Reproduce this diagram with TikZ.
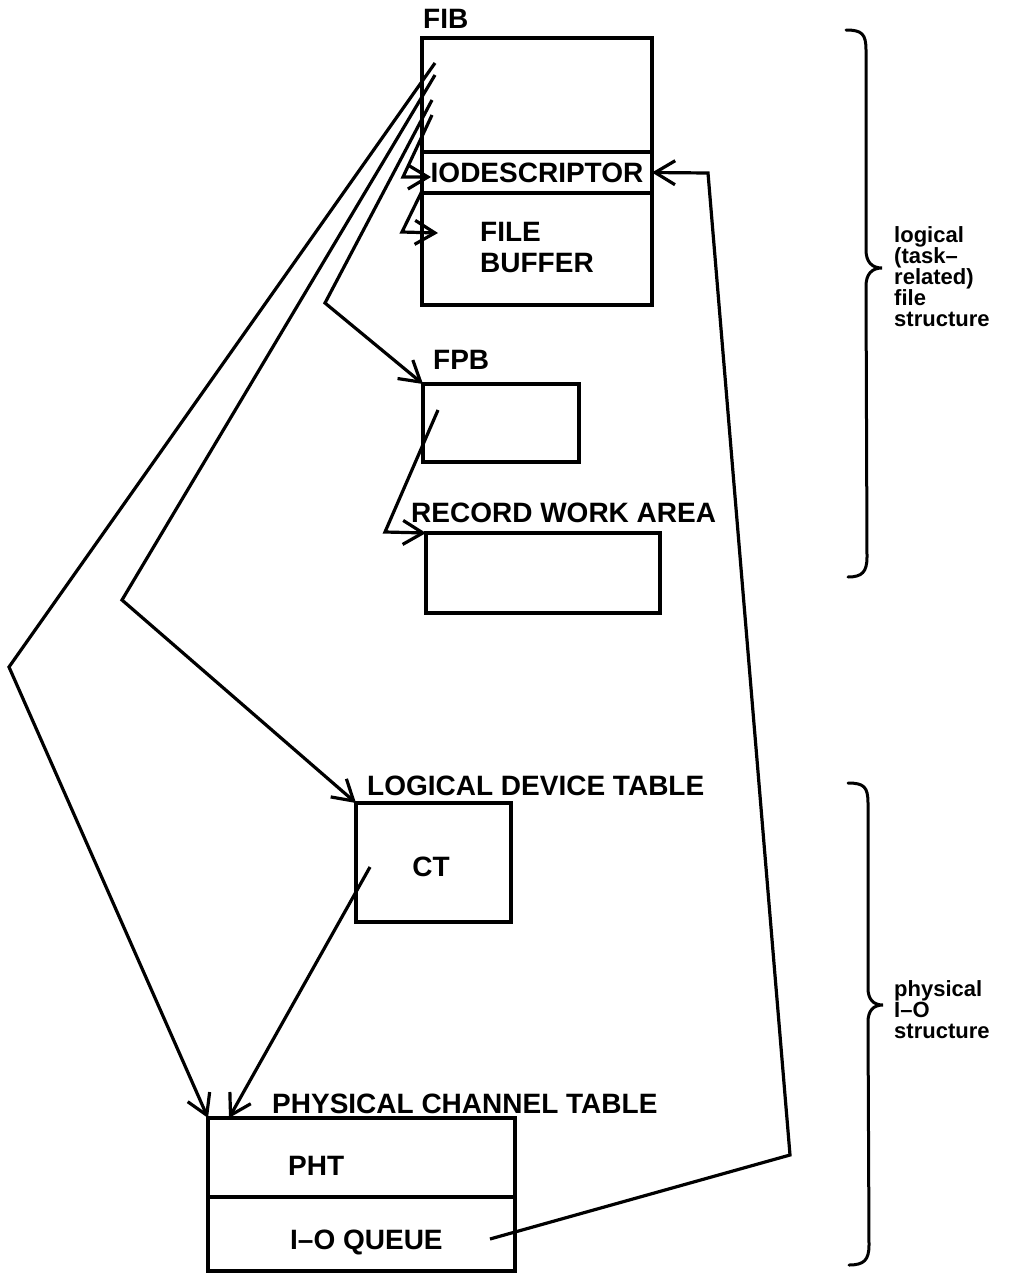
\documentclass[tikz,border=0pt]{standalone}
\usepackage{fontspec}
\setmainfont{Liberation Sans}
\usetikzlibrary{arrows.meta}
\begin{document}
\begin{tikzpicture}[x=1pt,y=-1pt,
  lw/.style={line width=3.2pt},
  box/.style={draw, lw, rectangle, outer sep=0pt, inner sep=0pt, anchor=north west},
  lbl/.style={font=\bfseries\fontsize{28}{31}\selectfont, inner sep=0pt},
  side/.style={font=\bfseries\fontsize{22}{21}\selectfont, inner sep=0pt, align=left, anchor=west},
  conn/.style={lw, line join=miter, -{Straight Barb[length=20pt,width=24pt]}},
  brc/.style={line width=3pt, line cap=round}
]
\fill[white] (0,0) rectangle (1019,1277);
\useasboundingbox (0,0) rectangle (1019,1277);

% FIB
\node[box, minimum width=230, minimum height=114] (fibtop) at (422,38) {};
\node[box, lbl, minimum width=230, minimum height=41] (iod) at (422,152) {IODESCRIPTOR};
\node[box, minimum width=230, minimum height=112] (fbuf) at (422,193) {};
\node[lbl, align=left, anchor=west] (fbtxt) at (480,247.5) {FILE\\BUFFER};
\node[lbl, anchor=base west] (fiblbl) at (423,28) {FIB};

% FPB
\node[box, minimum width=156, minimum height=78] (fpb) at (423,384) {};
\node[lbl, anchor=base west] (fpblbl) at (433,369) {FPB};

% Record work area
\node[box, minimum width=234, minimum height=80] (rwa) at (426,533) {};
\node[lbl, anchor=base west] (rwalbl) at (411,522) {RECORD WORK AREA};

% Logical device table
\node[box, minimum width=155, minimum height=119] (ldt) at (356,803) {};
\node[lbl] (cttxt) at (431,867) {CT};
\node[lbl, anchor=base west] (ldtlbl) at (367,795) {LOGICAL DEVICE TABLE};

% Physical channel table
\node[box, minimum width=307, minimum height=79] (pht) at (208,1118) {};
\node[box, minimum width=307, minimum height=74] (ioq) at (208,1197) {};
\node[lbl, anchor=base west] (phttxt) at (288,1175) {PHT};
\node[lbl, anchor=base west] (ioqtxt) at (290,1249) {I--O QUEUE};
\node[lbl, anchor=base west] (pctlbl) at (272,1113) {PHYSICAL CHANNEL TABLE};

% connectors
\coordinate (a1) at (435,63);  \coordinate (b1) at (9,667);
\draw[conn] (a1) -- (b1) -- (pht.north west);
\coordinate (a2) at (435,75);  \coordinate (b2) at (122,600);
\draw[conn] (a2) -- (b2) -- (ldt.north west);
\coordinate (a3) at (432,100); \coordinate (b3) at (325,303);
\draw[conn] (a3) -- (b3) -- (fpb.north west);
\coordinate (a4) at (432,115); \coordinate (b4) at (403,177);
\draw[conn] (a4) -- (b4) -- ([xshift=9pt,yshift=-4.5pt]iod.west);
\coordinate (b5) at (402,232);
\draw[conn] ([yshift=2pt]iod.south west) -- (b5) -- ([xshift=16pt,yshift=16pt]fbuf.west);
\coordinate (a6) at (438,410); \coordinate (b6) at (385,532);
\draw[conn] (a6) -- (b6) -- (rwa.north west);
\coordinate (a7) at (370,867);
\draw[conn] (a7) -- ([xshift=21pt]pht.north west);
\coordinate (a8) at (490,1239); \coordinate (b8) at (790,1155); \coordinate (c8) at (708,173);
\draw[conn] (a8) -- (b8) -- (c8) -- (iod.east);

% braces
\draw[brc] (846,30) .. controls (862,30) and (866,34) .. (866,50) -- (866,250)
  .. controls (866,262) and (872,268) .. (882,268)
  .. controls (872,268) and (866,274) .. (866,286) -- (867,557)
  .. controls (867,572) and (862,577) .. (848,577);
\draw[brc] (848,783) .. controls (864,783) and (868,787) .. (868,803) -- (868,988)
  .. controls (868,999) and (873,1005) .. (883,1005)
  .. controls (873,1005) and (868,1011) .. (868,1022) -- (869,1245)
  .. controls (869,1260) and (864,1265) .. (849,1265);

\node[side] (lg) at (894,277) {logical\\(task--\\related)\\file\\structure};
\node[side] (ph) at (894,1010) {physical\\I--O\\structure};
\end{tikzpicture}
\end{document}
